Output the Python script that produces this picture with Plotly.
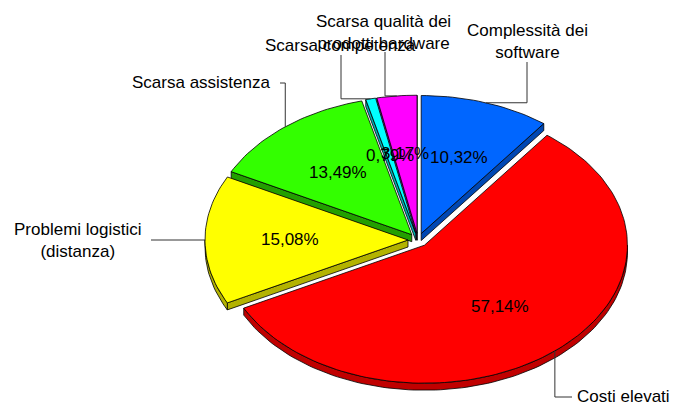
import numpy as np
import plotly.graph_objects as go

# ---- data ----
categories = ["Complessità dei<br>software", "Costi elevati", "Problemi logistici<br>(distanza)",
              "Scarsa assistenza", "Scarsa competenza", "Scarsa qualità dei<br>prodotti hardware"]
values = [10.32, 57.14, 15.08, 13.49, 0.79, 3.17]
top_colors = ["#0066FF", "#FF0000", "#FFFF00", "#33FF00", "#00FFFF", "#FF00FF"]
side_colors = ["#0047B3", "#C00000", "#B3B300", "#239F00", "#00B0B0", "#B000B0"]

# ---- layout / geometry (window pixel space) ----
W, H = 673, 406
CX, CY = 418, 240
RX, RY = 203, 138
DEPTH = 7
PULL = 10
K = RY / RX
LABEL_R = 0.58
FONT = "Liberation Sans, Arial, sans-serif"
FS = 17

# label placements: (text x, text y, xanchor, leader start, leader mode)
label_pos = [
    (527, 41, "center", (527, 62), "v"),
    (672, 396, "right", (572, 397), "h"),
    (78, 240, "center", (151, 240), "h"),
    (201, 82, "center", (280, 83), "h"),
    (340, 45, "center", (341, 55), "v"),
    (383, 32, "center", (385, 52), "v"),
]

total = sum(values)
cum = np.concatenate([[0], np.cumsum(values)]) / total * 360.0


def rim(c, phi, r=1.0, dz=0.0):
    p = np.radians(phi)
    return c[0] + RX * r * np.sin(p), c[1] - RY * r * np.cos(p) + dz


def arc(c, a, b, dz=0.0):
    n = max(2, int(abs(b - a) / 1.5) + 2)
    ph = np.linspace(a, b, n)
    xs, ys = rim(c, ph, 1.0, dz)
    return list(xs), list(ys)


fig = go.Figure()

slices = []
for i, v in enumerate(values):
    s, e = cum[i], cum[i + 1]
    m = (s + e) / 2
    mr = np.radians(m)
    c = (CX + PULL * np.sin(mr), CY - PULL * K * np.cos(mr))
    slices.append((i, s, e, m, c))

# back to front
order = sorted(slices, key=lambda t: t[4][1] - RY * 0.5 * np.cos(np.radians(t[3])))


def poly(xs, ys, fill, lw=0.8):
    fig.add_trace(go.Scatter(x=xs + [xs[0]], y=ys + [ys[0]], mode="lines", fill="toself",
                             fillcolor=fill, line=dict(color="black", width=lw),
                             hoverinfo="skip", showlegend=False))


for i, s, e, m, c in order:
    # visible radial faces
    for phi, vis in ((s, 180 < s % 360 < 360), (e, 0 < e % 360 < 180)):
        if vis:
            rx0, ry0 = rim(c, phi)
            poly([c[0], rx0, rx0, c[0]], [c[1], ry0, ry0 + DEPTH, c[1] + DEPTH], side_colors[i])
    # outer wall (front half)
    a, b = max(s, 90), min(e, 270)
    if b > a:
        xt, yt = arc(c, a, b)
        xb, yb = arc(c, a, b, DEPTH)
        poly(xt + xb[::-1], yt + yb[::-1], side_colors[i])
    # top face
    xa, ya = arc(c, s, e)
    poly([c[0]] + xa, [c[1]] + ya, top_colors[i])

annotations = []
for i, s, e, m, c in slices:
    # percentage labels
    lx, ly = rim(c, m, LABEL_R)
    txt = f"{values[i]:.2f}%".replace(".", ",")
    annotations.append(dict(x=lx, y=ly, text=txt, showarrow=False, xref="x", yref="y",
                            font=dict(family=FONT, size=FS, color="black")))
    # category labels + leader lines
    tx, ty, xa_, (ax, ay), mode = label_pos[i]
    annotations.append(dict(x=tx, y=ty, text=categories[i], showarrow=False, xref="x", yref="y",
                            xanchor=xa_, yanchor="middle", align="center",
                            font=dict(family=FONT, size=FS, color="black")))
    px, py = rim(c, m)
    if mode == "v":
        lxs, lys = [ax, ax, px], [ay, py, py]
    else:
        lxs, lys = [ax, px, px], [ay, ay, py]
    fig.add_trace(go.Scatter(x=lxs, y=lys, mode="lines", line=dict(color="#333333", width=1),
                             hoverinfo="skip", showlegend=False))

fig.update_layout(
    width=W, height=H, margin=dict(l=0, r=0, t=0, b=0),
    paper_bgcolor="white", plot_bgcolor="white",
    xaxis=dict(range=[0, W], visible=False, fixedrange=True),
    yaxis=dict(range=[H, 0], visible=False, fixedrange=True),
    annotations=annotations, showlegend=False,
)

fig.write_html("out.html", config={"displayModeBar": False},
               post_script="document.body.style.margin='0';document.body.style.overflow='hidden';")
